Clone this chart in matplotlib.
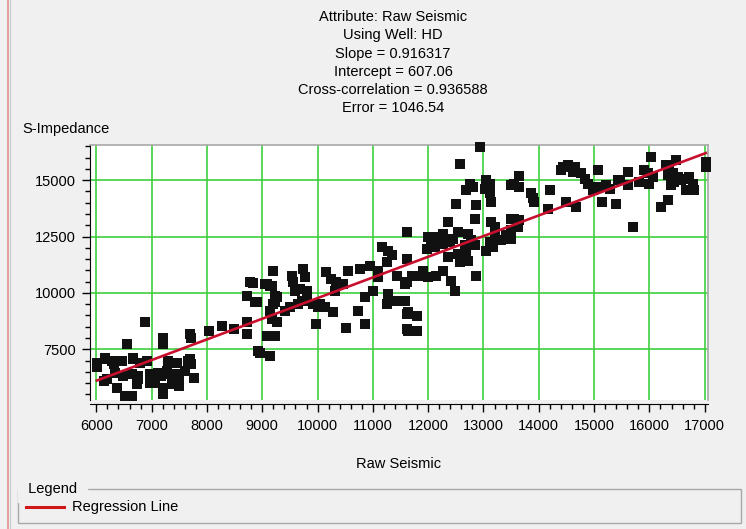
import numpy as np
import matplotlib
matplotlib.use("Agg")
import matplotlib.pyplot as plt
from matplotlib.lines import Line2D
from matplotlib.patches import Rectangle
from matplotlib.ticker import MultipleLocator, FixedLocator

plt.rcParams['font.family'] = ['Liberation Sans', 'DejaVu Sans']

# Crossplot of raw seismic amplitude vs. S-impedance at well HD
raw_seismic = [
    6010, 6010, 6160, 6190, 6310, 6370, 6460, 6490, 6520, 6550, 6640, 6670, 6730, 6760, 6790,
    6880, 6910, 6970, 7060, 7160, 7200, 7200, 7210, 7210, 7270, 7300, 7370, 7460, 7490, 7490,
    7700, 7720, 7700, 7720, 7760, 6130, 6280, 6340, 6640, 6760, 6970, 7120, 7300, 7480, 7600,
    7060, 7390, 7660, 6160, 6430, 6670,
    8030, 8270, 8480, 8720, 8720, 8720, 8780, 8840, 8900, 9050, 9140, 9200, 9230, 9230, 9140,
    9170, 9260, 9080, 9230, 8930, 8960, 9140, 9410, 9530, 9560, 9590, 9650, 9710, 9740, 9770,
    9680, 9800, 9800, 9920, 10040, 10130, 10010, 10280, 9980, 10160, 10250, 10340, 10460, 10310,
    10520, 10550, 10730, 10770, 10860, 10860, 10950, 11000, 11100, 11100, 11160, 11280, 11340,
    11250, 11280, 11250, 11430, 11440, 11580, 11610, 11610, 11610, 11610, 11610, 11640, 11790,
    11640, 11790, 11580, 11700, 11850, 11910, 12000, 12150, 12270, 12420, 12480, 12870,
    9260, 9200, 8870, 9500, 9080, 9170,
    12000, 12060, 12180, 12270, 12360, 12450, 12540, 12720, 11970, 12120, 12270, 12390, 12660,
    12780, 12840, 13110, 13200, 13320, 13410, 13500, 13050, 13170, 12360, 12540, 12690, 12720,
    12570, 12360, 12510, 12870, 12840, 13140, 13200, 13500, 12930, 12570, 12750, 12690, 12810,
    13050, 13110, 13020, 13110, 13140, 13500,
    13560, 13650, 13620, 13500, 13470,
    13650, 13560, 13650, 13860, 13890, 13920, 14200, 14160, 14490, 14680, 14430, 14520, 14650,
    14620, 14410, 14770, 14830, 14890, 15070, 14980, 15070, 15220, 15280, 15150, 15400, 15430,
    16030, 16480, 16300, 16360, 16420, 16330, 15910, 15970, 16060, 15610, 15610, 15820, 16000,
    15460, 16510, 16600, 16720, 16390, 16450, 16570, 16660, 16810, 16780, 16330, 16210, 15700,
    17020, 17020,
]
s_impedance = [
    6900, 6700, 7070, 6180, 6840, 5800, 6980, 6310, 5440, 7720, 5440, 7130, 5950, 6310, 6910,
    8700, 6980, 6020, 6170, 6310, 8020, 7720, 5790, 5500, 6530, 6980, 6090, 6910, 6310, 5870,
    8170, 8020, 7060, 6840, 6240, 6090, 6980, 6460, 6390, 6160, 6390, 6460, 6390, 6390, 6530,
    6020, 5940, 6980, 7130, 6980, 7050,
    8320, 8540, 8390, 8690, 8170, 9880, 10470, 10420, 9580, 10400, 10320, 10990, 9880, 9580, 9210,
    8840, 8690, 8100, 8100, 7410, 7340, 7190, 9210, 10770, 10470, 10100, 9510, 9650, 11060, 10690,
    10170, 10100, 9650, 9510, 9510, 9360, 9360, 9140, 8610, 10920, 10620, 10470, 10400, 10100,
    8460, 10990, 9210, 11060, 8610, 9800, 11210, 10100, 10990, 10690, 12030, 11880, 11660,
    11360, 9950, 9510, 9650, 10770, 10400, 12700, 11510, 10470, 9060, 8390, 9140, 8990,
    8320, 8320, 9650, 10770, 10770, 10990, 10690, 10770, 10990, 10540, 10100, 10770,
    9800, 9510, 9580, 9360, 10400, 10320,
    12480, 12330, 12480, 12620, 12330, 12410, 12700, 12620, 11960, 12030, 12180, 12260, 12110,
    12330, 12110, 12260, 12480, 12330, 12550, 12410, 11880, 12030, 11580, 11730, 11800, 11430,
    11360, 13140, 13960, 13890, 13290, 13140, 12920, 13290, 16480, 15710, 14850, 14550, 14700,
    15000, 14850, 14630, 14410, 14030, 14780,
    13290, 13220, 12920, 12770, 12480,
    15180, 14850, 14700, 14410, 14190, 14030, 14550, 13740, 14030, 13810, 15590, 15670, 15590,
    15370, 15450, 15300, 15070, 14850, 15450, 14550, 14700, 14780, 14630, 14030, 13960, 15000,
    16040, 15890, 15670, 15450, 15300, 15220, 15450, 15300, 15150, 15370, 14780, 14930, 14850,
    15000, 15150, 15070, 15150, 14780, 14930, 15000, 14550, 14550, 14850, 14110, 13810, 12920,
    15820, 15590,
]

slope = 0.916317
intercept = 607.06
cross_correlation = 0.936588
error = 1046.54

title_lines = [
    "Attribute: Raw Seismic",
    "Using Well: HD",
    f"Slope = {slope:g}",
    f"Intercept = {intercept:.2f}",
    f"Cross-correlation = {cross_correlation:g}",
    f"Error = {error:.2f}",
]

x_major = list(range(6000, 17001, 1000))
y_major = [7500, 10000, 12500, 15000]

W, H = 746, 529
bg = '#f0f0f0'
fig = plt.figure(figsize=(W / 100, H / 100), dpi=100, facecolor=bg)


def fx(px):
    return px / W


def fy(py):
    return 1 - py / H


ax = fig.add_axes([fx(90), fy(400), fx(708) - fx(90), fy(145) - fy(400)])
ax.set_facecolor('white')
ax.set_xlim(5885, 17060)
ax.set_ylim(5250, 16560)

ax.xaxis.set_major_locator(FixedLocator(x_major))
ax.xaxis.set_minor_locator(MultipleLocator(200))
ax.yaxis.set_major_locator(FixedLocator(y_major))
ax.yaxis.set_minor_locator(MultipleLocator(500))
ax.tick_params(axis='both', which='major', direction='out', length=6, width=1,
               labelsize=10.5, colors='black')
ax.tick_params(axis='both', which='minor', direction='out', length=3.5, width=1)
ax.tick_params(axis='x', which='major', pad=5)
ax.tick_params(axis='y', which='major', pad=4)

ax.grid(True, which='major', color='#3fcf3f', linewidth=1.2, zorder=0)
ax.set_axisbelow(True)

for side in ('top', 'right'):
    ax.spines[side].set_color('#a8a8a8')
    ax.spines[side].set_linewidth(1.2)
ax.spines['left'].set_color('black')
ax.spines['bottom'].set_color('black')
ax.spines['bottom'].set_position(('outward', 3))

ax.scatter(raw_seismic, s_impedance, marker='s', s=46, color='#111111',
           linewidths=0, zorder=3, clip_on=False)

xs = np.array([min(raw_seismic), max(raw_seismic)])
reg_label = "Regression Line"
ax.plot(xs, slope * xs + intercept, color='#c8102e', linewidth=1.9, zorder=4,
        label=reg_label)

ax.set_xlabel("Raw Seismic", fontsize=10.5, labelpad=17)

# stacked header above the plot
for i, line in enumerate(title_lines):
    fig.text(fx(393), fy(17 + i * 18.3), line, ha='center', va='center', fontsize=10.5)

fig.text(fx(22), fy(129), "S-Impedance", ha='left', va='center', fontsize=10.5)

# window edge on the far left
fig.add_artist(Line2D([fx(8), fx(8)], [0, 1], color='#e09090', linewidth=1.2))
fig.add_artist(Line2D([fx(10), fx(10)], [0, 1], color='#c8c8c8', linewidth=0.8))

# legend group box
fig.add_artist(Rectangle((fx(18), fy(523)), fx(741) - fx(18), fy(489) - fy(523),
                         transform=fig.transFigure, fill=False, edgecolor='#a8a8a8',
                         linewidth=1.0))
fig.text(fx(24), fy(489), " Legend ", ha='left', va='center', fontsize=10.5,
         backgroundcolor=bg)
fig.add_artist(Line2D([fx(26), fx(64)], [fy(507), fy(507)], color='#d01818',
                      linewidth=2.2))
fig.text(fx(72), fy(507), reg_label, ha='left', va='center', fontsize=10.5)

fig.savefig("out.png", dpi=100, facecolor=bg)
